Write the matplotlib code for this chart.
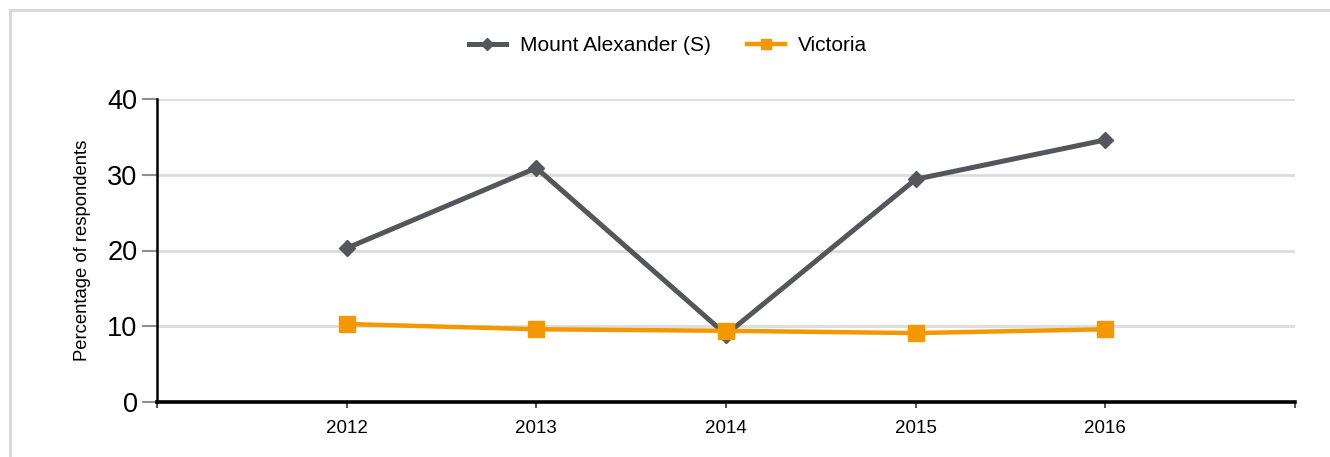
import matplotlib.pyplot as plt
from matplotlib.patches import Rectangle

plt.rcParams['font.family'] = ['Liberation Sans', 'DejaVu Sans']

# data
years = [2012, 2013, 2014, 2015, 2016]
mount_alexander = [20.3, 30.9, 8.9, 29.4, 34.6]
victoria = [10.3, 9.6, 9.4, 9.1, 9.6]
y_ticks = [0, 10, 20, 30, 40]

grey = '#54565b'
orange = '#f39800'

fig = plt.figure(figsize=(13.3, 4.57), dpi=100)
ax = fig.add_axes([157 / 1330, 1 - 402 / 457, (1295 - 157) / 1330, (402 - 99) / 457])

# outer light frame (only top and left visible in the reference)
fig.patches.append(Rectangle((9.5 / 1330, -0.1), 1.2, 1 - 9.5 / 457 + 0.1,
                             transform=fig.transFigure, fill=False,
                             edgecolor='#d9d9d9', linewidth=2.2, zorder=0))

ax.plot(years, mount_alexander, color=grey, linewidth=3.6, marker='D',
        markersize=8.5, label='Mount Alexander (S)', zorder=3)
ax.plot(years, victoria, color=orange, linewidth=3.2, marker='s',
        markersize=11, label='Victoria', zorder=4)

ax.set_xlim(2011, 2017)
ax.set_ylim(0, 40)
ax.set_yticks(y_ticks)
ax.set_xticks(years)
ax.set_xticks([2011, 2017], minor=True)
ax.grid(axis='y', color='#dcdcdc', linewidth=2)
ax.set_axisbelow(True)

for side in ['top', 'right']:
    ax.spines[side].set_visible(False)
ax.spines['left'].set_linewidth(1.8)
ax.spines['bottom'].set_linewidth(2.6)

ax.tick_params(axis='y', length=11, width=1.5, color='#909090',
               labelsize=19.5, pad=3)
ax.tick_params(axis='x', which='both', length=4, width=1.2, color='#333333',
               labelsize=13.5, pad=9)

ax.set_ylabel('Percentage of respondents', fontsize=13.3, labelpad=12)

ax.legend(loc='lower center', bbox_to_anchor=(0.449, 1.082), ncol=2,
          frameon=False, fontsize=15, handlelength=1.8, columnspacing=1.75,
          handletextpad=0.65, markerscale=0.7)

fig.savefig('out.png', dpi=100)
